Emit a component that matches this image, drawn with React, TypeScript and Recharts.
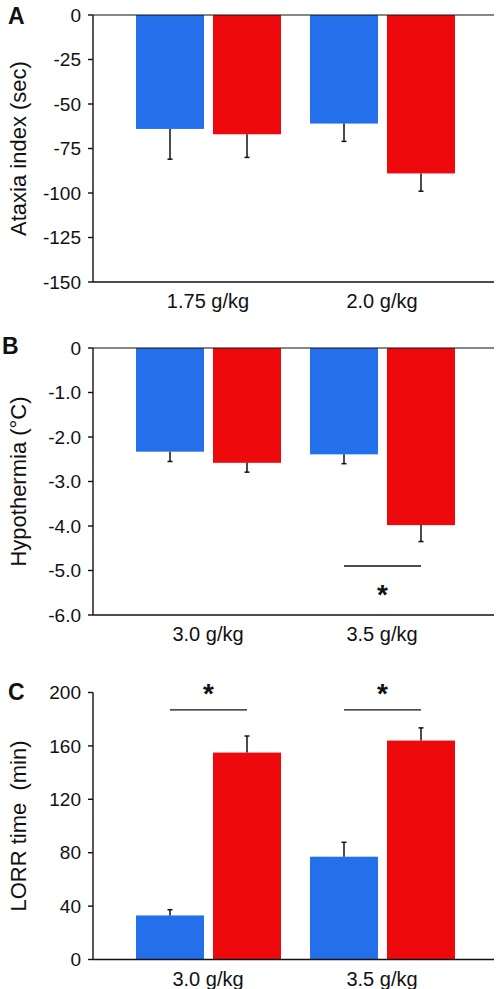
import { BarChart, Bar, XAxis, YAxis, ReferenceLine } from 'recharts'

// panel A: ataxia
const ataxiaCategories = ['1.75 g/kg', '2.0 g/kg']
const ataxiaBlue = [-64, -61]
const ataxiaBlueErr = [17, 10]
const ataxiaRed = [-67, -89]
const ataxiaRedErr = [13, 10]
const ataxiaTicks = [0, -25, -50, -75, -100, -125, -150]

// panel B: hypothermia
const hypoCategories = ['3.0 g/kg', '3.5 g/kg']
const hypoBlue = [-2.33, -2.39]
const hypoBlueErr = [0.22, 0.21]
const hypoRed = [-2.58, -3.98]
const hypoRedErr = [0.21, 0.37]
const hypoSig = [null, -4.9]
const hypoTicks = [0, -1, -2, -3, -4, -5, -6]

// panel C: LORR time
const lorrCategories = ['3.0 g/kg', '3.5 g/kg']
const lorrBlue = [33, 77]
const lorrBlueErr = [4.3, 10.8]
const lorrRed = [155, 164]
const lorrRedErr = [12.4, 9.5]
const lorrSig = [187, 187]
const lorrTicks = [0, 40, 80, 120, 160, 200]

const BLUE = '#246fea'
const RED = '#ee0a0c'
const INK = '#111'
const BAR = 68
const GAP = 9
const FONT = '"Liberation Sans", Arial, Helvetica, sans-serif'

function barShape(color: string, key: string, errs: number[], sig?: (number | null)[], starBelow = false) {
  return (p: any) => {
    const { x, y, width, height, index, payload } = p
    const v: number = payload[key]
    const top = Math.min(y, y + height)
    const bottom = Math.max(y, y + height)
    const zeroY = v < 0 ? top : bottom
    const endY = v < 0 ? bottom : top
    const toPx = (val: number) => zeroY + (val / v) * (endY - zeroY)
    const cx = x + width / 2
    const e = errs[index]
    const errY = toPx(v < 0 ? v - e : v + e)
    const s = sig ? sig[index] : null
    let sigEl = null
    if (s != null) {
      const ly = toPx(s)
      const x1 = x - GAP - width / 2
      const x2 = x + width / 2
      sigEl = (
        <g>
          <line x1={x1} x2={x2} y1={ly} y2={ly} stroke={INK} strokeWidth={1.4} />
          <text
            x={(x1 + x2) / 2}
            y={starBelow ? ly + 38 : ly - 7}
            textAnchor="middle"
            fontSize={28}
            fontWeight="bold"
            fill={INK}
          >
            *
          </text>
        </g>
      )
    }
    return (
      <g>
        <rect x={x} y={top} width={width} height={bottom - top} fill={color} />
        <line x1={cx} x2={cx} y1={endY} y2={errY} stroke={INK} strokeWidth={1.5} />
        <line x1={cx - 2.5} x2={cx + 2.5} y1={errY} y2={errY} stroke={INK} strokeWidth={1.5} />
        {sigEl}
      </g>
    )
  }
}

interface PanelProps {
  categories: string[]
  blue: number[]
  blueErr: number[]
  red: number[]
  redErr: number[]
  sig?: (number | null)[]
  starBelow?: boolean
  ticks: number[]
  domain: [number, number]
  fmt: (v: number) => string
  yLabel: string
  height: number
  top: number
  xHeight: number
  zeroLine: boolean
}

function Panel(props: PanelProps) {
  const data = props.categories.map((name, i) => ({
    name,
    blue: props.blue[i],
    red: props.red[i],
  }))
  return (
    <BarChart
      width={497}
      height={props.height}
      data={data}
      margin={{ top: props.top, right: 3, bottom: 0, left: 0 }}
      barSize={BAR}
      barGap={GAP}
    >
      <XAxis
        dataKey="name"
        tickLine={false}
        tickSize={0}
        tickMargin={12}
        height={props.xHeight}
        padding={{ left: 28, right: 25 }}
        axisLine={{ stroke: INK, strokeWidth: 1.4 }}
        tick={{ fontSize: 20, fill: INK }}
        interval={0}
      />
      <YAxis
        width={93}
        domain={props.domain}
        ticks={props.ticks}
        interval={0}
        tickFormatter={props.fmt}
        tickSize={5}
        tickMargin={7}
        axisLine={{ stroke: INK, strokeWidth: 1.4 }}
        tickLine={{ stroke: INK, strokeWidth: 1.4 }}
        tick={{ fontSize: 19, fill: INK }}
        label={{
          value: props.yLabel,
          angle: -90,
          position: 'insideLeft',
          offset: 18,
          style: { textAnchor: 'middle', fontSize: 22, fill: INK },
        }}
      />
      {props.zeroLine && <ReferenceLine y={0} stroke={INK} strokeWidth={1.2} />}
      <Bar
        dataKey="blue"
        isAnimationActive={false}
        shape={barShape(BLUE, 'blue', props.blueErr)}
      />
      <Bar
        dataKey="red"
        isAnimationActive={false}
        shape={barShape(RED, 'red', props.redErr, props.sig, props.starBelow)}
      />
    </BarChart>
  )
}

export default function App() {
  return (
    <div style={{ position: 'relative', width: 497, height: 989, fontFamily: FONT, background: '#fff' }}>
      <style>{'body{margin:0}'}</style>
      <div style={{ position: 'absolute', left: 0, top: 0 }}>
        <Panel
          categories={ataxiaCategories}
          blue={ataxiaBlue}
          blueErr={ataxiaBlueErr}
          red={ataxiaRed}
          redErr={ataxiaRedErr}
          ticks={ataxiaTicks}
          domain={[-150, 0]}
          fmt={(v) => String(v)}
          yLabel="Ataxia index (sec)"
          height={330}
          top={15}
          xHeight={48}
          zeroLine
        />
      </div>
      <div style={{ position: 'absolute', left: 0, top: 330 }}>
        <Panel
          categories={hypoCategories}
          blue={hypoBlue}
          blueErr={hypoBlueErr}
          red={hypoRed}
          redErr={hypoRedErr}
          sig={hypoSig}
          starBelow
          ticks={hypoTicks}
          domain={[-6, 0]}
          fmt={(v) => (v === 0 ? '0' : v.toFixed(1))}
          yLabel="Hypothermia (°C)"
          height={330}
          top={18}
          xHeight={45}
          zeroLine
        />
      </div>
      <div style={{ position: 'absolute', left: 0, top: 660 }}>
        <Panel
          categories={lorrCategories}
          blue={lorrBlue}
          blueErr={lorrBlueErr}
          red={lorrRed}
          redErr={lorrRedErr}
          sig={lorrSig}
          ticks={lorrTicks}
          domain={[0, 200]}
          fmt={(v) => String(v)}
          yLabel={'LORR time\u00A0 (min)'}
          height={329}
          top={32.5}
          xHeight={29.5}
          zeroLine={false}
        />
      </div>
      <svg
        width={497}
        height={989}
        style={{ position: 'absolute', left: 0, top: 0, pointerEvents: 'none' }}
      >
        <text x={8} y={24} fontSize={23} fontWeight="bold" fill={INK}>A</text>
        <text x={2} y={354} fontSize={23} fontWeight="bold" fill={INK}>B</text>
        <text x={8} y={700} fontSize={23} fontWeight="bold" fill={INK}>C</text>
      </svg>
    </div>
  )
}
